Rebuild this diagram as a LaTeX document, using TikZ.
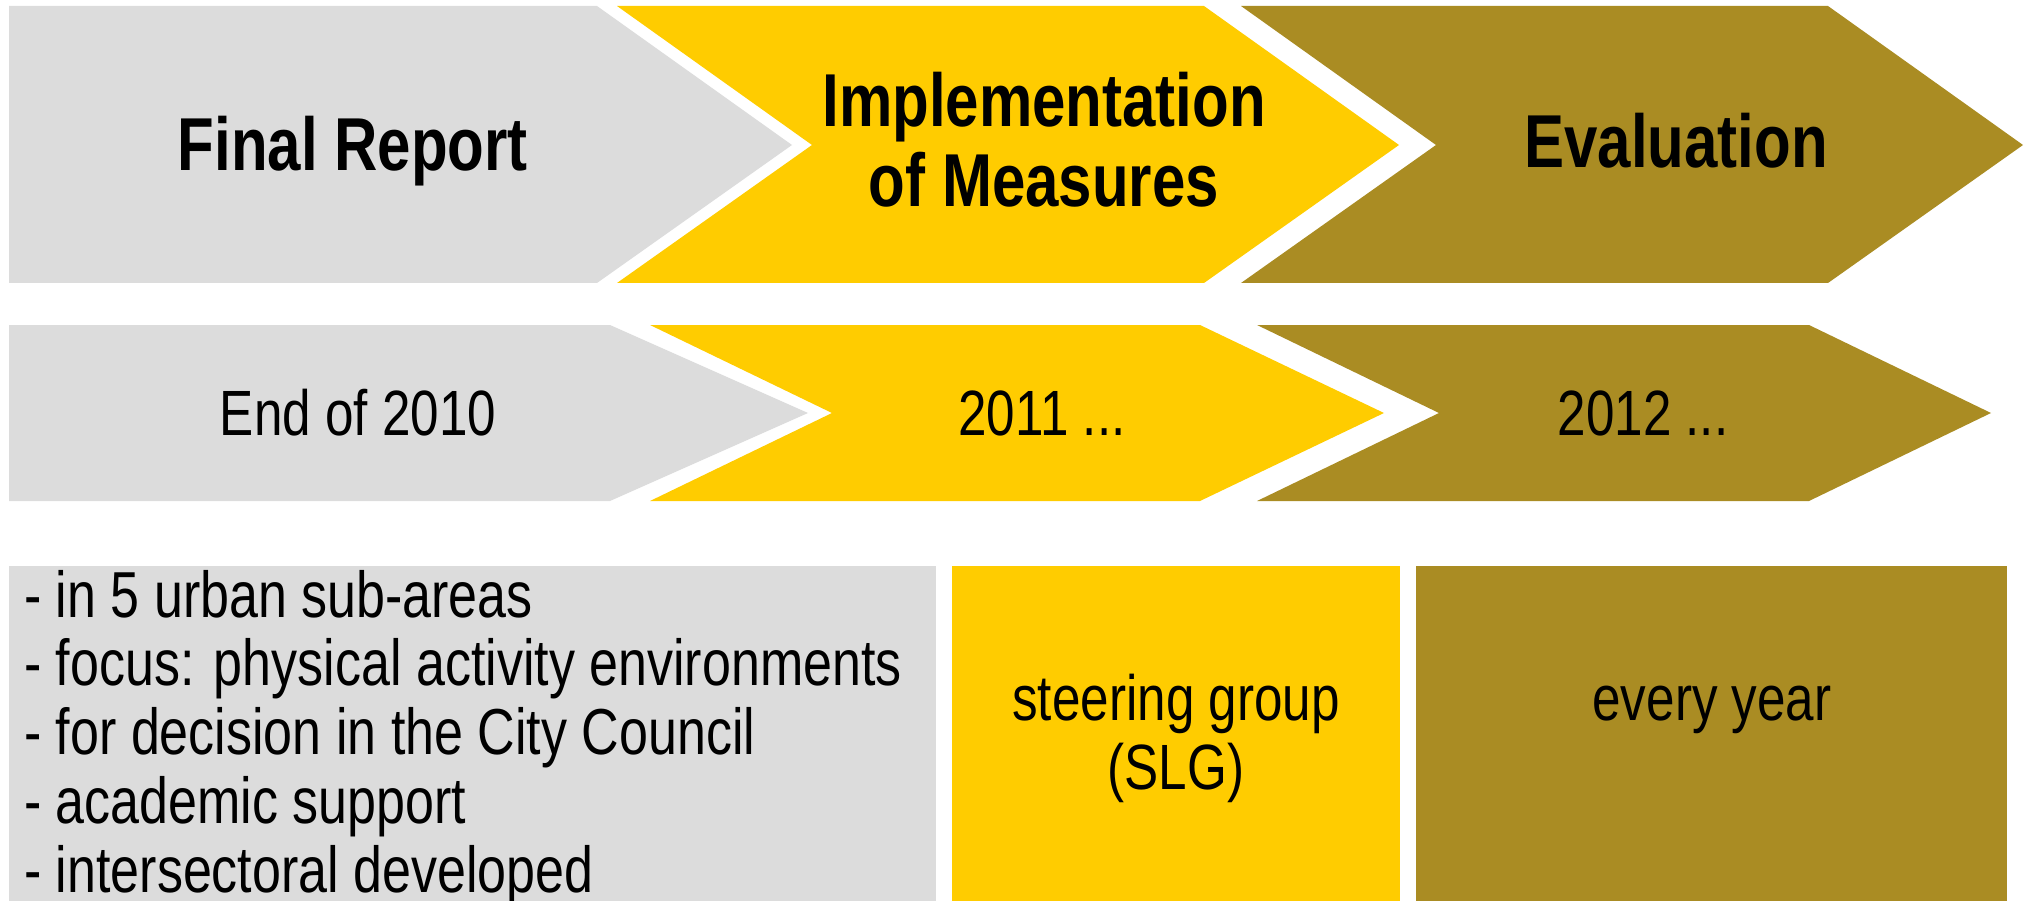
\documentclass[tikz,border=0pt]{standalone}
\usepackage{fontspec}
\setmainfont{Liberation Sans}[FakeStretch=0.80]
\usetikzlibrary{calc}
\definecolor{phasegrey}  {RGB}{220,220,220}
\definecolor{phaseyellow}{RGB}{255,204,  0}
\definecolor{phaseolive} {RGB}{170,140, 35}
\tikzset{
  %% Flat filled shapes, no outline
  chevron/.style={draw=none},
  %% Bold headings in the top row
  phasetitle/.style={
    font=\fontsize{75}{80}\selectfont\bfseries,
    inner sep=0pt, anchor=base, align=center
  },
  %% Dates in the second row
  phasedate/.style={
    font=\fontsize{64}{70}\selectfont,
    inner sep=0pt, anchor=base
  },
  %% Notes in the boxes at the bottom
  phasenote/.style={
    font=\fontsize{64}{69}\selectfont,
    inner sep=0pt, anchor=base, align=center
  },
  notelist/.style={
    font=\fontsize{65}{68.7}\selectfont,
    inner sep=0pt, anchor=base west, align=left
  },
}

\begin{document}
\begin{tikzpicture}[x=1pt, y=-1pt]

  %% ── Layout constants ──────────────────────────────────────────────────
  \def\TA{6}     % top row: top
  \def\MA{145}   % top row: tip
  \def\BA{283}   % top row: bottom
  \def\TB{325}   % second row: top
  \def\MB{413}   % second row: tip
  \def\BB{501}   % second row: bottom
  \def\TC{566}   % boxes: top
  \def\BC{901}   % boxes: bottom

  \useasboundingbox (0,0) rectangle (2029,901);

  %% ══════════════════════════════════════════════════════════════════════
  %%  TOP ROW
  %% ══════════════════════════════════════════════════════════════════════
  \fill[chevron, phasegrey]
        (9,\TA) -- (597,\TA) -- (792,\MA) -- (597,\BA) -- (9,\BA) -- cycle;
  \fill[chevron, phaseyellow]
        (617,\TA) -- (1204,\TA) -- (1399,\MA) -- (1204,\BA)
        -- (617,\BA) -- (812,\MA) -- cycle;
  \fill[chevron, phaseolive]
        (1241,\TA) -- (1828,\TA) -- (2023,\MA) -- (1828,\BA)
        -- (1241,\BA) -- (1436,\MA) -- cycle;

  %% multi-line nodes sit on the baseline of their last line
  \node[phasetitle] (titlereport) at (353,171) {Final Report};
  \node[phasetitle] (titleimpl)   at (1044,207)
        {Implementation\\of Measures};
  \node[phasetitle] (titleeval)   at (1676,168) {Evaluation};

  %% ══════════════════════════════════════════════════════════════════════
  %%  SECOND ROW
  %% ══════════════════════════════════════════════════════════════════════
  \fill[chevron, phasegrey]
        (9,\TB) -- (610,\TB) -- (808,\MB) -- (610,\BB) -- (9,\BB) -- cycle;
  \fill[chevron, phaseyellow]
        (650,\TB) -- (1200,\TB) -- (1384,\MB) -- (1200,\BB)
        -- (650,\BB) -- (832,\MB) -- cycle;
  \fill[chevron, phaseolive]
        (1257,\TB) -- (1809,\TB) -- (1991,\MB) -- (1809,\BB)
        -- (1257,\BB) -- (1439,\MB) -- cycle;

  \node[phasedate] (datereport) at (358,435)  {End of 2010};
  \node[phasedate] (dateimpl)   at (1042,435) {2011 ...};
  \node[phasedate] (dateeval)   at (1643,435) {2012 ...};

  %% ══════════════════════════════════════════════════════════════════════
  %%  BOXES
  %% ══════════════════════════════════════════════════════════════════════
  \fill[phasegrey]   (9,\TC)    rectangle (936,\BC);
  \fill[phaseyellow] (952,\TC)  rectangle (1400,\BC);
  \fill[phaseolive]  (1416,\TC) rectangle (2007,\BC);

  \node[notelist] (notereport) at (24,892)
        {- in 5 urban sub-areas\\
         - focus: physical activity environments\\
         - for decision in the City Council\\
         - academic support\\
         - intersectoral developed};
  \node[phasenote] (noteimpl) at (1176,789) {steering group\\(SLG)};
  \node[phasenote] (noteeval) at (1712,720) {every year};

\end{tikzpicture}
\end{document}
